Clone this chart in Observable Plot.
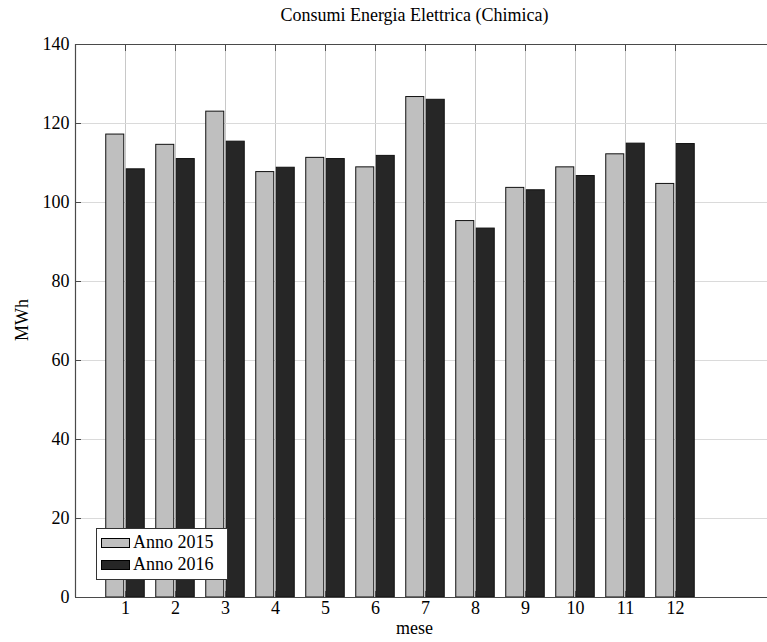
<!DOCTYPE html>
<html><head><meta charset="utf-8">
<script src="https://cdn.jsdelivr.net/npm/d3@7"></script>
<script src="https://cdn.jsdelivr.net/npm/@observablehq/plot@0.6"></script>
<style>
body{margin:0;background:#fff;}
#wrap{position:relative;width:767px;height:642px;overflow:hidden;font-family:"Liberation Serif",serif;color:#000;}
#wrap svg{position:absolute;left:0;top:0;overflow:hidden;}
.lbl{position:absolute;font-size:18px;line-height:18px;white-space:nowrap;}
#title{left:0;width:829px;top:6px;text-align:center;}
#xlab{left:0;width:829px;top:619px;text-align:center;}
#ylab{left:22px;top:320px;transform:translate(-50%,-50%) rotate(-90deg);}
#legend{position:absolute;left:96px;top:528px;width:130px;height:50px;border:1px solid #333;background:#fff;}
.item{position:absolute;left:4px;height:18px;}
.sw{position:absolute;left:0;top:5px;width:27px;height:8px;border:1px solid #000;}
.it{position:absolute;left:32px;top:0;font-size:18px;line-height:18px;white-space:nowrap;}
</style></head><body><div id="wrap"></div>
<script>
const months = [1,2,3,4,5,6,7,8,9,10,11,12];
const monthLabels = ["1","2","3","4","5","6","7","8","9","10","11","12"];
const seriesNames = ["Anno 2015","Anno 2016"];
const anno2015 = [117.2,114.6,123.0,107.7,111.3,108.9,126.7,95.3,103.7,108.9,112.2,104.7];
const anno2016 = [108.4,111.0,115.4,108.8,111.0,111.8,126.0,93.4,103.1,106.7,114.9,114.8];
const yTicks = [0,20,40,60,80,100,120,140];
const titleText = "Consumi Energia Elettrica (Chimica)";
const xLabel = "mese";
const yLabel = "MWh";

const colors = ["#bfbfbf","#262626"];
const data = months.flatMap((m,i)=>[
  {m, s: seriesNames[0], v: anno2015[i]},
  {m, s: seriesNames[1], v: anno2016[i]}
]);
const offset = {[seriesNames[0]]: -0.205, [seriesNames[1]]: 0.205};
const halfW = 0.18;
const axisColor = "#4a4a4a";

const chart = Plot.plot({
  width: 767, height: 642,
  marginLeft: 75, marginTop: 44, marginBottom: 45, marginRight: 0,
  x: {domain: [0, 14], range: [75, 775]},
  y: {domain: [0, 140], range: [597, 44]},
  color: {domain: seriesNames, range: colors},
  style: {fontFamily: "'Liberation Serif', serif", fontSize: "18px", background: "transparent", color: "#000"},
  marks: [
    Plot.ruleX(months, {stroke: "#c8c8c8", strokeWidth: 1}),
    Plot.ruleY(yTicks.slice(1), {stroke: "#dadada", strokeWidth: 1}),
    Plot.rect(data, {
      x1: d => d.m + offset[d.s] - halfW,
      x2: d => d.m + offset[d.s] + halfW,
      y1: 0, y2: "v", fill: "s", stroke: "#111", strokeWidth: 1
    }),
    Plot.ruleY([140], {stroke: axisColor, strokeWidth: 1.2}),
    Plot.ruleY([0], {stroke: axisColor, strokeWidth: 1.2}),
    Plot.ruleX([0], {stroke: axisColor, strokeWidth: 1.2}),
    Plot.axisX(months, {anchor: "bottom", tickSize: -6, tickPadding: 10, stroke: axisColor, tickFormat: (d,i) => monthLabels[months.indexOf(d)], label: null, fill: "#000"}),
    Plot.axisX(months, {anchor: "top", tickSize: -6, stroke: axisColor, tickFormat: () => "", label: null}),
    Plot.axisY(yTicks, {anchor: "left", tickSize: -6, tickPadding: 12, stroke: axisColor, label: null, fill: "#000"})
  ]
});

const wrap = document.getElementById("wrap");
wrap.appendChild(chart);

function addLabel(id, text) {
  const d = document.createElement("div");
  d.className = "lbl"; d.id = id; d.textContent = text;
  wrap.appendChild(d);
}
addLabel("title", titleText);
addLabel("xlab", xLabel);
addLabel("ylab", yLabel);

const leg = document.createElement("div");
leg.id = "legend";
seriesNames.forEach((name, i) => {
  const it = document.createElement("div");
  it.className = "item";
  it.style.top = (4 + i * 22) + "px";
  const sw = document.createElement("div");
  sw.className = "sw"; sw.style.background = colors[i];
  const tx = document.createElement("div");
  tx.className = "it"; tx.textContent = name;
  it.appendChild(sw); it.appendChild(tx);
  leg.appendChild(it);
});
wrap.appendChild(leg);
</script>
</body></html>
